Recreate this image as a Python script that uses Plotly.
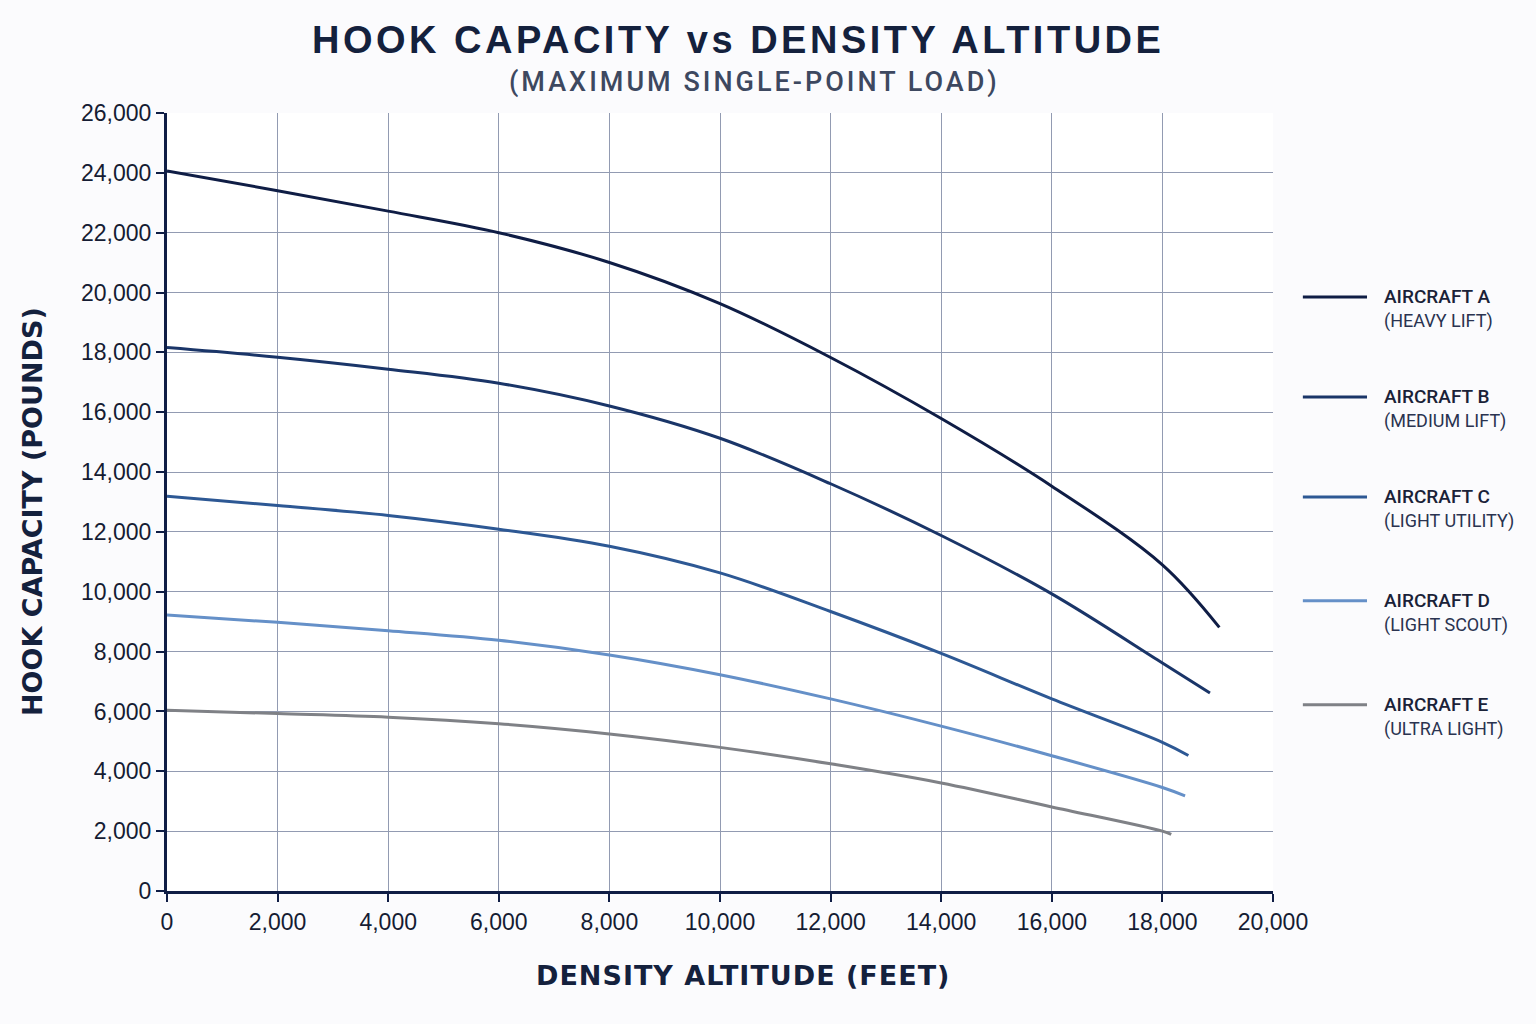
import plotly.graph_objects as go

altitude = [0, 2000, 4000, 6000, 8000, 10000, 12000, 14000, 16000, 18000]

names = ["AIRCRAFT A", "AIRCRAFT B", "AIRCRAFT C", "AIRCRAFT D", "AIRCRAFT E"]
subs = ["(HEAVY LIFT)", "(MEDIUM LIFT)", "(LIGHT UTILITY)", "(LIGHT SCOUT)", "(ULTRA LIGHT)"]

cap_a = [24060, 23405, 22720, 22000, 21005, 19630, 17830, 15790, 13530, 10900]
cap_b = [18160, 17840, 17440, 16970, 16210, 15130, 13610, 11880, 9930, 7620]
cap_c = [13190, 12880, 12550, 12090, 11520, 10630, 9340, 7940, 6420, 4970]
cap_d = [9220, 8980, 8700, 8380, 7890, 7230, 6420, 5510, 4520, 3460]
cap_e = [6040, 5930, 5810, 5590, 5250, 4800, 4250, 3610, 2810, 2000]

end_x = [19030, 18860, 18470, 18410, 18160]
end_y = [8810, 6620, 4530, 3180, 1890]

colors = ["#0f1d45", "#1a3568", "#2d5894", "#6590c8", "#7f8186"]
series = [cap_a, cap_b, cap_c, cap_d, cap_e]

fig = go.Figure()
for i, vals in enumerate(series):
    xs = altitude[:len(vals)] + [end_x[i]]
    ys = list(vals) + [end_y[i]]
    fig.add_trace(go.Scatter(
        x=xs, y=ys, mode="lines", name=names[i],
        line=dict(color=colors[i], width=3, shape="spline", smoothing=1.0),
        showlegend=False,
    ))

# custom legend
leg_y = [0.7635, 0.635, 0.5065, 0.373, 0.2395]
for i in range(5):
    fig.add_shape(type="line", xref="paper", yref="paper",
                  x0=1.027, x1=1.085, y0=leg_y[i], y1=leg_y[i],
                  line=dict(color=colors[i], width=3))
    fig.add_annotation(xref="paper", yref="paper", x=1.099, y=leg_y[i],
                       text=names[i], showarrow=False, xanchor="left", yanchor="middle",
                       font=dict(family="Roboto", size=19, color="#1a2238", weight=500))
    fig.add_annotation(xref="paper", yref="paper", x=1.099, y=leg_y[i] - 0.031,
                       text=subs[i], showarrow=False, xanchor="left", yanchor="middle",
                       font=dict(family="Roboto", size=18, color="#2a3350", weight=400))

# titles
fig.add_annotation(xref="paper", yref="paper", x=0.516, y=1.0 + (113 - 40) / 778,
                   text='<span style="letter-spacing:3.5px">HOOK CAPACITY vs DENSITY ALTITUDE</span>',
                   showarrow=False, xanchor="center", yanchor="middle",
                   font=dict(family="Liberation Sans", size=38, color="#14213d", weight=700))
fig.add_annotation(xref="paper", yref="paper", x=(755 - 167) / 1106, y=1.0 + (113 - 82) / 778,
                   text='<span style="letter-spacing:3px">(MAXIMUM SINGLE-POINT LOAD)</span>',
                   showarrow=False, xanchor="center", yanchor="middle",
                   font=dict(family="Roboto", size=27, color="#3d4860", weight=500))
# axis titles
fig.add_annotation(xref="paper", yref="paper", x=(743 - 167) / 1106, y=-(975 - 891) / 778,
                   text='<span style="letter-spacing:1px">DENSITY ALTITUDE (FEET)</span>',
                   showarrow=False, xanchor="center", yanchor="middle",
                   font=dict(family="DejaVu Sans", size=27, color="#14213d", weight=700))
fig.add_annotation(xref="paper", yref="paper", x=-(167 - 32) / 1106, y=(891 - 512) / 778,
                   text="HOOK CAPACITY (POUNDS)", showarrow=False, textangle=-90,
                   xanchor="center", yanchor="middle",
                   font=dict(family="DejaVu Sans", size=27, color="#14213d", weight=700))

fig.update_layout(
    width=1536, height=1024,
    margin=dict(l=167, r=263, t=113, b=133),
    paper_bgcolor="#fbfbfd", plot_bgcolor="#ffffff",
    font=dict(family="Liberation Sans", color="#0f1d45"),
)
fig.update_xaxes(
    range=[0, 20000], tickvals=list(range(0, 20001, 2000)), tickformat=",d",
    showgrid=True, gridcolor="#929bb2", gridwidth=1,
    showline=True, linecolor="#0f1d45", linewidth=3,
    ticks="outside", ticklen=8, tickwidth=2, tickcolor="#0f1d45",
    tickfont=dict(size=23, color="#151c33"),
    zeroline=False,
)
fig.update_yaxes(
    range=[0, 26000], tickvals=list(range(0, 26001, 2000)), tickformat=",d",
    showgrid=True, gridcolor="#929bb2", gridwidth=1,
    showline=True, linecolor="#0f1d45", linewidth=3,
    ticks="outside", ticklen=8, tickwidth=2, tickcolor="#0f1d45",
    tickfont=dict(size=23, color="#151c33"),
    zeroline=False,
)
fig.write_html("out.html")
